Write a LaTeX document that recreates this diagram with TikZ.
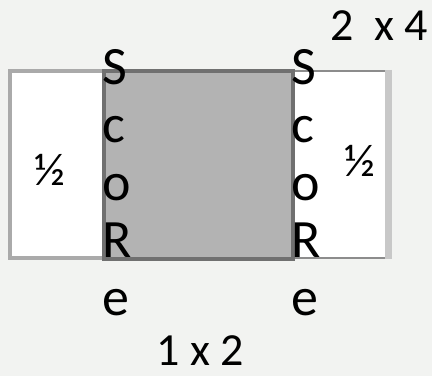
\documentclass[tikz,border=0pt]{standalone}
\usepackage{fontspec}
\setmainfont{Carlito}
\definecolor{bg}{RGB}{242,243,241}
\definecolor{midgray}{RGB}{179,179,179}
\definecolor{darkedge}{RGB}{112,112,112}
\definecolor{lightedge}{RGB}{170,170,170}
\definecolor{paleedge}{RGB}{200,200,200}
\definecolor{thinedge}{RGB}{140,140,140}
\tikzset{
  letter/.style={anchor=base west, inner sep=0pt, font=\fontsize{54}{58}\selectfont},
  label/.style={inner sep=0pt, font=\fontsize{46}{50}\selectfont},
  half/.style={inner sep=0pt, font=\fontsize{46}{50}\selectfont}
}
\begin{document}
\begin{tikzpicture}[x=1pt,y=-1pt]
\fill[bg] (0,0) rectangle (432,376);
\useasboundingbox (0,0) rectangle (432,376);
% left white box
\filldraw[fill=white, draw=lightedge, line width=4pt] (10,71) rectangle (104,258);
% right white box
\fill[white] (293,71) rectangle (388,258);
\draw[thinedge, line width=2.5pt] (293,71) -- (388,71);
\draw[thinedge, line width=2.5pt] (293,258) -- (388,258);
\draw[paleedge, line width=7pt] (388,69.75) -- (388,259.25);
% gray box
\filldraw[fill=midgray, draw=darkedge, line width=3.5pt] (104,71) rectangle (293,259);
% letters
\foreach \c/\yy [count=\i] in {S/84,c/142,o/200,R/257,e/315}{
  \node[letter] (l\i) at (102,\yy) {\c};
  \node[letter] (r\i) at (291,\yy) {\c};
}
\node[half] (h1) at (50,170) {½};
\node[half] (h2) at (360,161) {½};
\node[label, anchor=base] (t1) at (200,365) {1 x 2};
\node[label, anchor=base] (t2) at (379,40) {2~~x 4};
\end{tikzpicture}
\end{document}
